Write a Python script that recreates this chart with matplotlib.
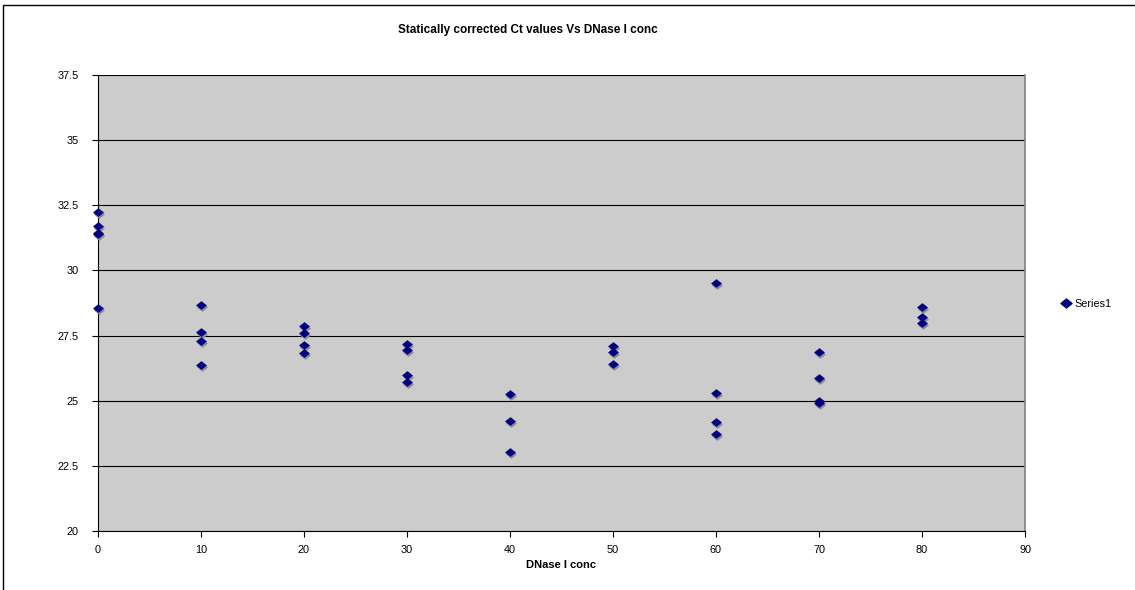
import matplotlib
matplotlib.use("Agg")
import matplotlib.pyplot as plt
from matplotlib.transforms import ScaledTranslation
from matplotlib.patches import Rectangle
from matplotlib.lines import Line2D
from matplotlib.path import Path

plt.rcParams['font.family'] = ['Liberation Sans', 'DejaVu Sans']

# Data
conc = [0, 0, 0, 0, 0,
        10, 10, 10, 10,
        20, 20, 20, 20,
        30, 30, 30, 30,
        40, 40, 40,
        50, 50, 50,
        60, 60, 60, 60,
        70, 70, 70, 70,
        80, 80, 80]
ct = [32.25, 31.70, 31.42, 31.38, 28.54,
      28.69, 27.65, 27.29, 26.37,
      27.87, 27.58, 27.15, 26.85,
      27.17, 26.93, 25.97, 25.72,
      25.24, 24.23, 23.02,
      27.10, 26.86, 26.40,
      29.50, 25.28, 24.18, 23.72,
      26.87, 25.87, 24.98, 24.92,
      28.59, 28.22, 27.98]

title = "Statically corrected Ct values Vs DNase I conc"
xlabel = "DNase I conc"
series_name = "Series1"
xticks = [0, 10, 20, 30, 40, 50, 60, 70, 80, 90]
yticks = [20, 22.5, 25, 27.5, 30, 32.5, 35, 37.5]
ytick_labels = ["20", "22.5", "25", "27.5", "30", "32.5", "35", "37.5"]

W, H, DPI = 1135, 590, 100
fig = plt.figure(figsize=(W / DPI, H / DPI), dpi=DPI)
fig.patch.set_facecolor("white")

# outer chart border (partially cropped)
fig.patches.append(Rectangle((3 / W, -0.05), 1.2, 1.05 - 5 / H,
                             transform=fig.transFigure, fill=False,
                             edgecolor="black", linewidth=1.0))

left, right, top, bottom = 98, 1025, 75, 531
ax = fig.add_axes([left / W, 1 - bottom / H, (right - left) / W, (bottom - top) / H])
ax.set_facecolor("#CCCCCC")
ax.set_xlim(0, 90)
ax.set_ylim(20, 37.5)
ax.set_xticks(xticks)
ax.set_yticks(yticks)
ax.set_yticklabels(ytick_labels)
ax.tick_params(axis="both", direction="out", length=4, width=0.8,
               labelsize=7.8, colors="black")
ax.tick_params(axis="x", pad=6)
ax.tick_params(axis="y", pad=10)
ax.grid(axis="y", color="black", linewidth=0.8)
ax.set_axisbelow(True)
ax.spines["right"].set_color("#808080")
ax.spines["right"].set_linewidth(1.2)
ax.spines["top"].set_visible(False)
ax.spines["left"].set_color("black")
ax.spines["bottom"].set_color("black")

diamond = Path([(0, 0.8), (1.0, 0), (0, -0.8), (-1.0, 0), (0, 0.8)],
               [Path.MOVETO, Path.LINETO, Path.LINETO, Path.LINETO, Path.CLOSEPOLY])

shadow = ax.transData + ScaledTranslation(0.5 / DPI, -2 / DPI, fig.dpi_scale_trans)
ax.scatter(conc, ct, marker=diamond, s=62, color="#8C8C8C", linewidths=0,
           transform=shadow, zorder=3, clip_on=False)
ax.scatter(conc, ct, marker=diamond, s=62, color="#000080", linewidths=0,
           zorder=4, clip_on=False)

ax.set_xlabel(xlabel, fontsize=8, fontweight="bold", labelpad=4)
fig.text(528 / W, 1 - 30 / H, title, fontsize=8.5, fontweight="bold",
         ha="center", va="center")

# legend
h = Line2D([], [], marker=diamond, linestyle="none", color="#000080", markersize=8)
fig.legend([h], [series_name], loc="center left",
           bbox_to_anchor=(1055 / W, 1 - 304 / H), frameon=False,
           fontsize=7.8, handletextpad=0.2, borderaxespad=0, handlelength=1.2)

fig.savefig("out.png", dpi=DPI)
